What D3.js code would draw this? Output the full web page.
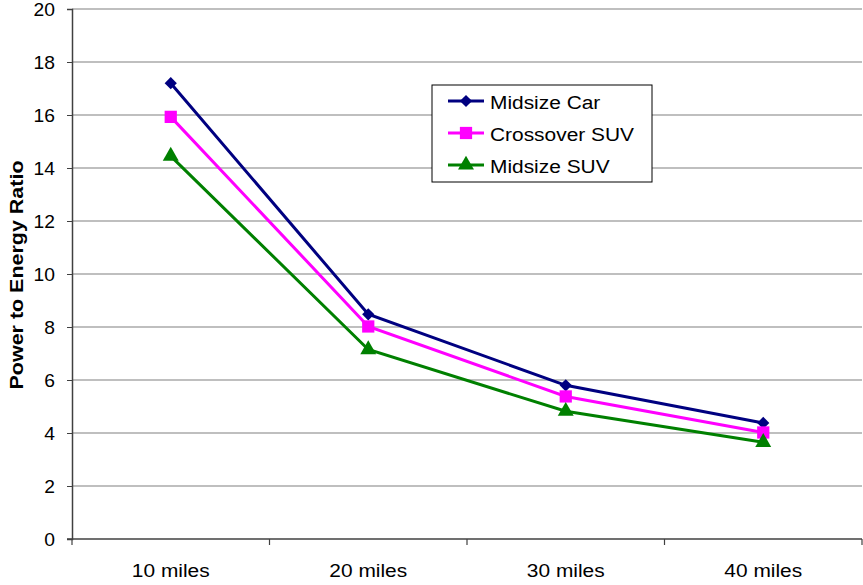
<!DOCTYPE html>
<html>
<head>
<meta charset="utf-8">
<script src="https://cdn.jsdelivr.net/npm/d3@7"></script>
<style>
  html, body { margin: 0; padding: 0; background: #fff; }
  svg { display: block; font-family: "Liberation Sans", Arial, sans-serif; }
</style>
</head>
<body>
<svg id="chart" width="863" height="585"></svg>
<script>
// Trip distances on the category axis
const categories = ["10 miles", "20 miles", "30 miles", "40 miles"];

// Power to energy ratio for each vehicle class
const midsizeCar   = [17.2, 8.48, 5.8, 4.38];
const crossoverSUV = [15.93, 8.02, 5.38, 4.02];
const midsizeSUV   = [14.45, 7.15, 4.82, 3.65];

const seriesNames = ["Midsize Car", "Crossover SUV", "Midsize SUV"];
const yTicks = [0, 2, 4, 6, 8, 10, 12, 14, 16, 18, 20];

const series = [
  { name: seriesNames[0], values: midsizeCar,   color: "#000080", symbol: d3.symbolDiamond2, size: 95 },
  { name: seriesNames[1], values: crossoverSUV, color: "#FF00FF", symbol: d3.symbolSquare,   size: 150 },
  { name: seriesNames[2], values: midsizeSUV,   color: "#008000", symbol: d3.symbolTriangle, size: 110 }
];

const svg = d3.select("#chart");
const m = { left: 72, right: 862, top: 9, bottom: 539 };
const SX = 1.1; // horizontal text stretch

const x = d3.scaleBand().domain(categories).range([m.left, m.right]);
const y = d3.scaleLinear().domain([0, 20]).range([m.bottom, m.top]);

// Horizontal gridlines
svg.append("g").selectAll("line").data(yTicks.filter(t => t > 0)).join("line")
  .attr("x1", m.left).attr("x2", m.right)
  .attr("y1", d => y(d)).attr("y2", d => y(d))
  .attr("stroke", "#808080").attr("stroke-width", 1.2);

// Y axis
const yAxis = svg.append("g").attr("transform", `translate(${m.left},0)`)
  .call(d3.axisLeft(y).tickValues(yTicks).tickSize(5));
yAxis.select(".domain").attr("stroke", "#404040").attr("stroke-width", 1.5);
yAxis.selectAll(".tick line").attr("stroke", "#404040");
yAxis.selectAll("text")
  .attr("x", 0).attr("dy", "0.38em")
  .attr("transform", `translate(-17,0) scale(${SX},1)`)
  .attr("font-size", 17.5).attr("fill", "#000")
  .style("font-family", "'Liberation Sans', Arial, sans-serif");

// X axis with ticks on category boundaries
const xAxis = svg.append("g").attr("transform", `translate(0,${m.bottom})`);
xAxis.append("line").attr("x1", m.left - 5).attr("x2", m.right)
  .attr("stroke", "#404040").attr("stroke-width", 1.5);
const bounds = categories.map(c => x(c)).concat([x(categories[categories.length - 1]) + x.bandwidth()]);
xAxis.selectAll("line.tk").data(bounds).join("line").attr("class", "tk")
  .attr("x1", d => d).attr("x2", d => d).attr("y1", 0).attr("y2", 6)
  .attr("stroke", "#404040").attr("stroke-width", 1.2);
xAxis.selectAll("text").data(categories).join("text")
  .attr("transform", d => `translate(${x(d) + x.bandwidth() / 2},38) scale(${SX},1)`)
  .attr("text-anchor", "middle").attr("font-size", 19).text(d => d);

// Y axis title
svg.append("text")
  .attr("transform", `translate(23,${(m.top + m.bottom) / 2 + 1}) rotate(-90) scale(1.13,1)`)
  .attr("text-anchor", "middle").attr("font-size", 19).attr("font-weight", "bold")
  .text("Power to Energy Ratio");

// Lines and markers
const cx = c => x(c) + x.bandwidth() / 2;
const line = d3.line().x((d, i) => cx(categories[i])).y(d => y(d));

series.forEach(s => {
  svg.append("path").datum(s.values)
    .attr("d", line).attr("fill", "none")
    .attr("stroke", s.color).attr("stroke-width", 3);
});
series.forEach(s => {
  svg.append("g").selectAll("path").data(s.values).join("path")
    .attr("transform", (d, i) => `translate(${cx(categories[i])},${y(d)})`)
    .attr("d", d3.symbol().type(s.symbol).size(s.size))
    .attr("fill", s.color);
});

// Legend
const lg = svg.append("g").attr("transform", "translate(432,85)");
lg.append("rect").attr("x", 0).attr("y", 0).attr("width", 220).attr("height", 97)
  .attr("fill", "#fff").attr("stroke", "#000").attr("stroke-width", 1);
series.forEach((s, i) => {
  const ly = 16 + i * 32;
  lg.append("line").attr("x1", 16).attr("x2", 52).attr("y1", ly).attr("y2", ly)
    .attr("stroke", s.color).attr("stroke-width", 3);
  lg.append("path").attr("transform", `translate(34,${ly})`)
    .attr("d", d3.symbol().type(s.symbol).size(s.size)).attr("fill", s.color);
  lg.append("text").attr("transform", `translate(58,${ly + 7.5}) scale(${SX},1)`)
    .attr("font-size", 19).text(s.name);
});
</script>
</body>
</html>
